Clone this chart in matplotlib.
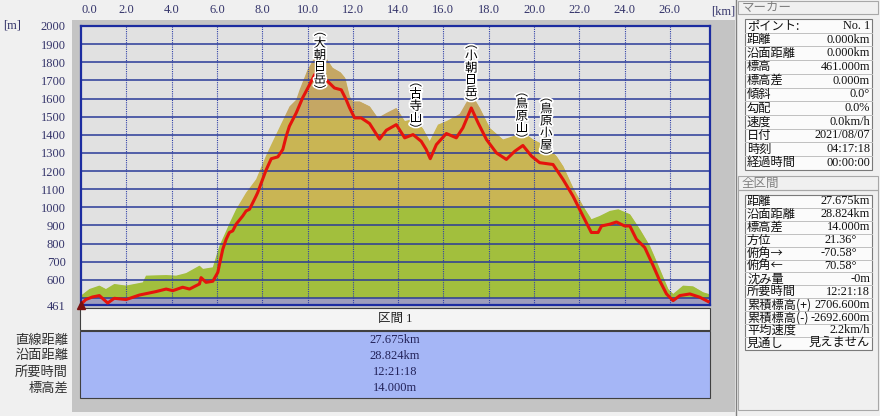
import numpy as np
import matplotlib.pyplot as plt
from matplotlib.patches import Rectangle
import matplotlib.patheffects as pe

plt.rcParams['font.family'] = ['Liberation Serif', 'Noto Sans CJK JP', 'DejaVu Sans']
JP = ['Noto Sans CJK JP', 'DejaVu Sans']
NUM = ['Liberation Serif', 'Noto Sans CJK JP']

# terrain (fill top) and GPS track (red line), km / m
terrain_km = [0.00, 0.37, 0.81, 1.10, 1.47, 1.99, 2.73, 2.87, 3.76, 4.20, 4.64, 5.23, 5.38, 5.82,
              6.11, 6.41, 6.55, 6.85, 7.29, 7.73, 8.17, 8.40, 8.76, 9.21, 9.50, 9.65, 10.00,
              10.38, 10.65, 11.10, 11.45, 11.65, 11.85, 12.00, 12.30, 12.74, 13.10, 13.48,
              13.92, 14.29, 14.73, 15.10, 15.39, 15.76, 16.13, 16.72, 17.23, 17.60, 18.04,
              18.63, 19.07, 19.44, 19.96, 20.54, 20.99, 21.28, 21.72, 22.16, 22.53, 22.90,
              23.35, 23.72, 24.23, 24.67, 25.11, 25.55, 25.92, 26.14, 26.58, 27.02, 27.47, 27.77]
terrain_m = [513, 549, 568, 549, 577, 568, 586, 623, 626, 623, 637, 678, 660, 669,
             787, 870, 910, 989, 1081, 1154, 1285, 1346, 1440, 1557, 1593, 1648, 1758,
             1841, 1855, 1770, 1745, 1715, 1612, 1584, 1584, 1557, 1493, 1520,
             1548, 1475, 1490, 1432, 1364, 1456, 1475, 1515, 1625, 1548, 1438,
             1374, 1392, 1420, 1374, 1337, 1282, 1227, 1108, 1007, 934, 952,
             980, 989, 962, 879, 787, 659, 549, 522, 568, 564, 531, 520]

track_km = [0.00, 0.21, 0.50, 0.81, 1.18, 1.47, 1.99, 2.58, 3.31, 3.76, 4.05, 4.49, 4.79, 5.23,
            5.30, 5.52, 5.82, 6.04, 6.26, 6.41, 6.55, 6.70, 6.85, 7.14, 7.29, 7.44, 7.73,
            7.80, 8.17, 8.40, 8.69, 8.91, 9.06, 9.20, 9.50, 9.79, 10.09, 10.31, 10.53,
            10.68, 10.75, 10.97, 11.19, 11.49, 11.71, 11.86, 12.08, 12.37, 12.74, 13.18,
            13.48, 13.92, 14.29, 14.66, 15.02, 15.24, 15.42, 15.69, 16.13, 16.57, 16.86,
            17.23, 17.53, 17.90, 18.34, 18.78, 19.15, 19.51, 19.89, 20.25, 20.84, 21.28,
            21.72, 22.16, 22.53, 22.83, 22.98, 23.35, 23.64, 24.00, 24.23, 24.52, 24.89,
            25.26, 25.55, 25.85, 26.14, 26.44, 26.88, 27.32, 27.69]
track_m = [465, 491, 505, 513, 472, 498, 491, 516, 535, 549, 540, 559, 549, 577,
           612, 586, 592, 641, 769, 824, 861, 870, 907, 952, 980, 989, 1062,
           1081, 1205, 1268, 1278, 1319, 1392, 1447, 1520, 1605, 1676, 1731, 1749,
           1749, 1713, 1685, 1658, 1648, 1593, 1548, 1493, 1493, 1462, 1376,
           1425, 1456, 1383, 1401, 1364, 1319, 1268, 1346, 1407, 1383, 1438,
           1548, 1466, 1374, 1300, 1264, 1309, 1341, 1282, 1246, 1236, 1154,
           1062, 952, 861, 861, 897, 907, 919, 897, 897, 824, 778,
           678, 595, 522, 485, 513, 522, 504, 480]

x_ticks = [0, 2, 4, 6, 8, 10, 12, 14, 16, 18, 20, 22, 24, 26]
y_ticks = [461, 600, 700, 800, 900, 1000, 1100, 1200, 1300, 1400, 1500, 1600, 1700, 1800, 1900, 2000]

band_lo = [461, 1000, 1500]
band_hi = [1000, 1500, 2000]
band_colors = ['#a2bf3d', '#c9b554', '#c5a764']

peak_names = ['大朝日岳', '古寺山', '小朝日岳', '鳥原山', '鳥原小屋']
peak_km = [10.55, 14.78, 17.23, 19.46, 20.54]
peak_top_m = [2005, 1725, 1935, 1670, 1642]

section_labels = ['直線距離', '沿面距離', '所要時間', '標高差']
section_values = ['27.675km', '28.824km', '12:21:18', '14.000m']

marker_labels = ['ポイント:', '距離', '沿面距離', '標高', '標高差', '傾斜', '勾配', '速度',
                 '日付', '時刻', '経過時間']
marker_values = ['No. 1', '0.000km', '0.000km', '461.000m', '0.000m', '0.0°', '0.0%',
                 '0.0km/h', '2021/08/07', '04:17:18', '00:00:00']

total_labels = ['距離', '沿面距離', '標高差', '方位', '俯角→', '俯角←', '沈み量', '所要時間',
                '累積標高(+)', '累積標高(-)', '平均速度', '見通し']
total_values = ['27.675km', '28.824km', '14.000m', '21.36°', '-70.58°', '70.58°', '-0m',
                '12:21:18', '2706.600m', '-2692.600m', '2.2km/h', '見えません']

W, H = 880, 416
fig = plt.figure(figsize=(W / 100, H / 100), dpi=100, facecolor='#f0f0f0')


def fx(x):
    return x / W


def fy(y):
    return 1 - y / H


def rect(x0, y0, x1, y1, z=1, **kw):
    fig.add_artist(Rectangle((fx(x0), fy(y1)), (x1 - x0) / W, (y1 - y0) / H,
                             transform=fig.transFigure, zorder=z, **kw))


# gray frame around chart + table
rect(72, 20, 735, 412, z=-10, facecolor='#c4c4c4', edgecolor='none')

# chart
ax = fig.add_axes([fx(81), fy(305), (710 - 81) / W, (305 - 26) / H])
ax.set_zorder(2)
ax.set_facecolor('#e1e1e1')
ax.set_xlim(0, 27.77)
ax.set_ylim(461, 2000)

terr = ax.fill_between(terrain_km, 461, terrain_m, color=band_colors[1], lw=0, zorder=1)
clip = terr.get_paths()[0]
for lo, hi, c in zip(band_lo, band_hi, band_colors):
    r = ax.axhspan(lo, hi, color=c, lw=0, zorder=1.1)
    r.set_clip_path(clip, ax.transData)
ax.axhspan(461, 500, color='#9d9dbd', lw=0, zorder=1.5)

ax.hlines(np.arange(500, 2000, 100), 0, 27.77, color='#2a3a98', lw=1.1, zorder=2)
ax.vlines(x_ticks[1:], 461, 2000, color='#3040a8', lw=0.8, linestyles=(0, (1, 1)), zorder=2)

ax.plot(track_km, track_m, color='#e5140c', lw=2.2, zorder=3, solid_joinstyle='round')
ax.plot([0], [461], marker='^', color='#7a1010', ms=6, clip_on=False, zorder=5)

for name, km, top in zip(peak_names, peak_km, peak_top_m):
    label = '\n'.join(['︵'] + list(name) + ['︶'])
    ax.text(km, top, label, ha='center', va='top', fontsize=9, family=JP, color='black',
            linespacing=0.9, zorder=4,
            path_effects=[pe.withStroke(linewidth=2.5, foreground='white')])

for s in ax.spines.values():
    s.set_color('#1c2ca0')
    s.set_linewidth(1.6)

ax.set_xticks(x_ticks)
ax.set_xticklabels([f'{v:.1f}' for v in x_ticks])
ax.xaxis.tick_top()
ax.tick_params(axis='x', length=0, pad=7, labelsize=9, labelcolor='#34346a')
ax.get_xticklabels()[0].set_ha('left')
ax.set_yticks(y_ticks)
ax.set_yticklabels([str(v) for v in y_ticks])
ax.tick_params(axis='y', length=0, pad=11, labelsize=9, labelcolor='#34346a')

fig.text(fx(723), fy(12), '[km]', ha='center', va='center', fontsize=9, color='#34346a', family=NUM)
fig.text(fx(3), fy(26), '[m]', ha='left', va='center', fontsize=9, color='#34346a', family=NUM)

# section table below chart
rect(80, 308, 710, 330, facecolor='#f4f4f4', edgecolor='#404040', lw=0.8)
fig.text(fx(395), fy(319), '区間 1', ha='center', va='center', fontsize=9, family=NUM, color='#202020')
rect(80, 331, 710, 398, facecolor='#a5b6f6', edgecolor='#404040', lw=0.8)
for i, (lab, val) in enumerate(zip(section_labels, section_values)):
    yy = 340 + 16 * i
    fig.text(fx(395), fy(yy), val, ha='center', va='center', fontsize=9, family=NUM, color='#23235a')
    fig.text(fx(68), fy(yy), lab, ha='right', va='center', fontsize=9.5, family=JP, color='#303030')

# right info panel
fig.add_artist(plt.Line2D([fx(736), fx(736)], [0, 1], transform=fig.transFigure, color='#808080', lw=1))
rect(738, 1, 878, 14, facecolor='#f0f0f0', edgecolor='#a8a8a8', lw=0.8)
fig.text(fx(742), fy(7.5), 'マーカー', ha='left', va='center', fontsize=9, family=JP, color='#808080')
rect(738, 176, 878, 190, facecolor='#f0f0f0', edgecolor='#a8a8a8', lw=0.8)
fig.text(fx(742), fy(183), '全区間', ha='left', va='center', fontsize=9, family=JP, color='#808080')
rect(738, 190, 878, 410, facecolor='none', edgecolor='#a8a8a8', lw=0.8)


def info_table(y0, step, labels, values, rights):
    n = len(labels)
    rect(745, y0, 872, y0 + step * n, facecolor='#fbfbfb', edgecolor='#7a7a7a', lw=0.8)
    for i in range(1, n):
        yy = y0 + step * i
        fig.add_artist(plt.Line2D([fx(745), fx(872)], [fy(yy), fy(yy)], transform=fig.transFigure,
                                  color='#c0c0c0', lw=0.7))
    for i, (lab, val) in enumerate(zip(labels, values)):
        yc = y0 + step * (i + 0.5)
        fig.text(fx(747), fy(yc), lab, ha='left', va='center', fontsize=8.8, family=JP, color='#101010')
        fig.text(fx(rights[i]), fy(yc), val, ha='right', va='center', fontsize=8.8, family=NUM,
                 color='#101010')


info_table(19, 13.7, marker_labels, marker_values, [870] * len(marker_labels))
total_right = [870] * len(total_labels)
total_right[3] = total_right[4] = total_right[5] = 857
info_table(195, 12.9, total_labels, total_values, total_right)

fig.savefig('out.png', dpi=100, facecolor=fig.get_facecolor())
